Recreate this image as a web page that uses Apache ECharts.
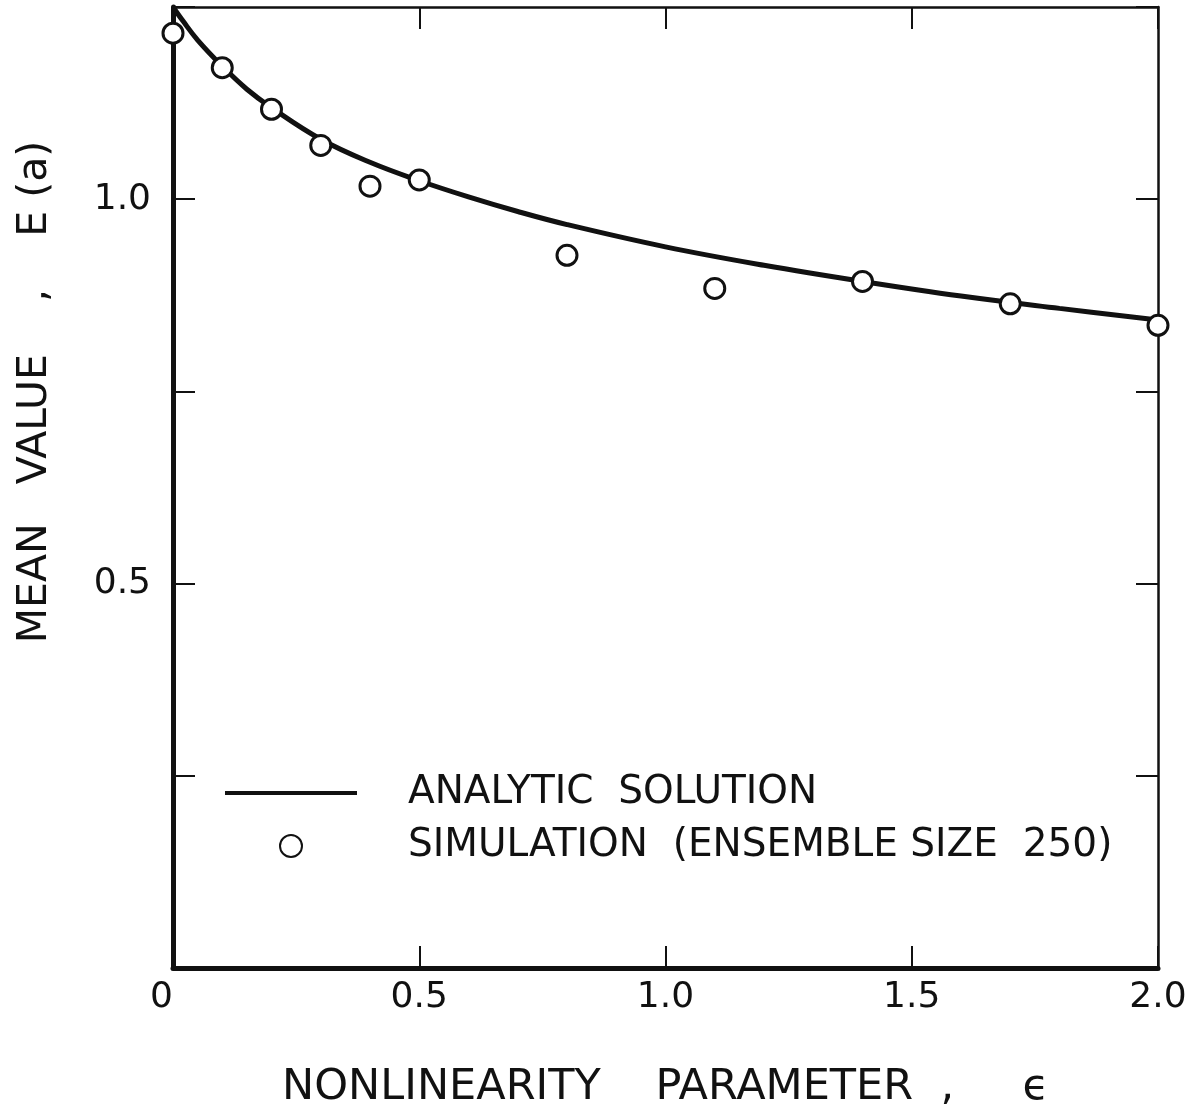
<!DOCTYPE html>
<html>
<head>
<meta charset="utf-8">
<script src="https://cdn.jsdelivr.net/npm/echarts@6/dist/echarts.min.js"></script>
<style>
  html, body { margin: 0; padding: 0; background: #fff; }
  #chart { width: 1200px; height: 1114px; }
</style>
</head>
<body>
<div id="chart"></div>
<script>
// analytic solution curve
const curveEps = [0, 0.02, 0.05, 0.1, 0.15, 0.2, 0.3, 0.4, 0.5, 0.6, 0.7, 0.8, 1.0, 1.2, 1.4, 1.6, 1.8, 2.0];
const curveMean = [1.25, 1.232, 1.207, 1.173, 1.143, 1.119, 1.078, 1.048, 1.024, 1.003, 0.984, 0.967, 0.938, 0.914, 0.893, 0.874, 0.858, 0.843];

// simulation points (ensemble size 250)
const simEps = [0, 0.1, 0.2, 0.3, 0.4, 0.5, 0.8, 1.1, 1.4, 1.7, 2.0];
const simMean = [1.216, 1.171, 1.117, 1.07, 1.017, 1.025, 0.927, 0.884, 0.893, 0.864, 0.836];

const xTickLabels = ['0', '0.5', '1.0', '1.5', '2.0'];
const yTickLabels = { '0.5': '0.5', '1': '1.0' };

const FONT = 'DejaVu Sans';
const INK = '#111';

const pairs = (xs, ys) => xs.map((x, i) => [x, ys[i]]);

const myChart = echarts.init(document.getElementById('chart'));

const tickInside = (w) => ({ show: true, inside: true, length: 22, lineStyle: { color: INK, width: w } });

myChart.setOption({
    backgroundColor: '#fff',
    animation: false,
    grid: { left: 173, right: 42, top: 7, bottom: 145, containLabel: false },
    legend: {
        orient: 'vertical',
        left: 225,
        top: 772,
        padding: 0,
        itemWidth: 132,
        itemHeight: 22,
        itemGap: 11,
        selectedMode: false,
        textStyle: { fontFamily: FONT, fontSize: 39, color: INK, padding: [0, 0, 0, 46], lineHeight: 42 },
        data: [
            { name: 'ANALYTIC  SOLUTION', icon: 'path://M0,0h100v3h-100z' },
            'SIMULATION  (ENSEMBLE SIZE  250)'
        ]
    },
    xAxis: [
        {
            type: 'value',
            position: 'bottom',
            min: 0,
            max: 2,
            interval: 0.5,
            name: 'NONLINEARITY    PARAMETER  ,     ϵ',
            nameLocation: 'middle',
            nameGap: 98,
            nameTextStyle: { fontFamily: FONT, fontSize: 43, color: INK },
            axisLine: { show: true, onZero: false, lineStyle: { color: INK, width: 5 } },
            axisTick: tickInside(2),
            splitLine: { show: false },
            axisLabel: {
                fontFamily: FONT, fontSize: 36, color: INK, margin: 12,
                alignMinLabel: 'right',
                formatter: (v) => xTickLabels[Math.round(v * 2)]
            }
        },
        {
            type: 'value',
            position: 'top',
            min: 0,
            max: 2,
            interval: 0.5,
            axisLine: { show: true, onZero: false, lineStyle: { color: INK, width: 2.5 } },
            axisTick: tickInside(2),
            splitLine: { show: false },
            axisLabel: { show: false }
        }
    ],
    yAxis: [
        {
            type: 'value',
            position: 'left',
            min: 0,
            max: 1.25,
            interval: 0.25,
            axisLine: { show: true, onZero: false, lineStyle: { color: INK, width: 5 } },
            axisTick: tickInside(2),
            splitLine: { show: false },
            axisLabel: {
                fontFamily: FONT, fontSize: 36, color: INK, margin: 22,
                formatter: (v) => yTickLabels[String(+v.toFixed(2))] || ''
            }
        },
        {
            type: 'value',
            position: 'right',
            min: 0,
            max: 1.25,
            interval: 0.25,
            axisLine: { show: true, onZero: false, lineStyle: { color: INK, width: 2.5 } },
            axisTick: tickInside(2),
            splitLine: { show: false },
            axisLabel: { show: false }
        }
    ],
    graphic: [
        {
            type: 'text',
            x: 35,
            y: 392,
            rotation: Math.PI / 2,
            style: {
                text: 'MEAN   VALUE    ,    E (a)',
                fontFamily: FONT,
                fontSize: 41,
                fill: INK,
                align: 'center',
                verticalAlign: 'middle'
            }
        }
    ],
    series: [
        {
            name: 'ANALYTIC  SOLUTION',
            type: 'line',
            smooth: 0.4,
            symbol: 'none',
            data: pairs(curveEps, curveMean),
            lineStyle: { color: INK, width: 5 },
            itemStyle: { color: INK },
            z: 2
        },
        {
            name: 'SIMULATION  (ENSEMBLE SIZE  250)',
            type: 'scatter',
            symbol: 'circle',
            symbolSize: 20,
            data: pairs(simEps, simMean),
            itemStyle: { color: '#fff', borderColor: INK, borderWidth: 3, opacity: 1 },
            z: 5
        }
    ]
});
</script>
</body>
</html>
